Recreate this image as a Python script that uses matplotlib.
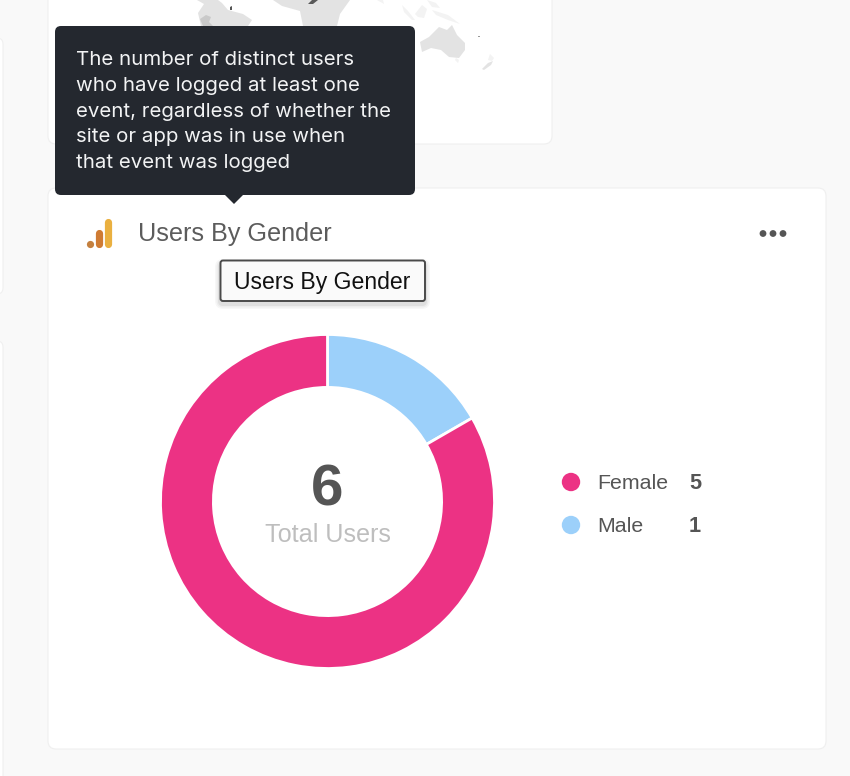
import matplotlib
matplotlib.use("Agg")
import matplotlib.pyplot as plt
from matplotlib.patches import FancyBboxPatch, Polygon, Circle

# Dashboard data
categories = ["Female", "Male"]
values = [5, 1]
colors = ["#EC3284", "#9CD0FA"]
total = sum(values)
card_title = "Users By Gender"
center_caption = "Total Users"
help_lines = [
    "The number of distinct users",
    "who have logged at least one",
    "event, regardless of whether the",
    "site or app was in use when",
    "that event was logged",
]

W, H = 850, 776
BG = "#F9F9F9"
plt.rcParams["font.family"] = ["Liberation Sans", "DejaVu Sans"]

fig = plt.figure(figsize=(W / 100, H / 100), dpi=100, facecolor=BG)

# Page layer in pixel units, origin at the top left
page = fig.add_axes([0, 0, 1, 1])
page.set_xlim(0, W)
page.set_ylim(H, 0)
page.axis("off")


def rounded(x0, y0, x1, y1, r, fc, ec="none", lw=0, z=1, alpha=None):
    patch = FancyBboxPatch((x0 + r, y0 + r), x1 - x0 - 2 * r, y1 - y0 - 2 * r,
                           boxstyle=f"round,pad={r},rounding_size={r}",
                           fc=fc, ec=ec, lw=lw, zorder=z, alpha=alpha)
    page.add_patch(patch)


# Neighbouring dashboard cards
rounded(-30, 38, 3, 294, 6, "#FFFFFF", "#F0F0F0", 0.8)
rounded(-30, 341, 3, 800, 6, "#FFFFFF", "#F0F0F0", 0.8)
rounded(48, -30, 552, 144, 8, "#FFFFFF", "#EFEFEF", 0.8)
rounded(48, 188, 826, 749, 8, "#FFFFFF", "#EFEFEF", 0.8)

# World map fragments in the upper card
LAND = "#E3E3E3"
FAINT = "#F3F3F3"
land_shapes = [
    [(197, 0), (204, 4), (198, 13), (201, 26), (248, 26), (252, 20), (243, 14), (228, 10), (222, 3), (218, 0)],
    [(273, 0), (282, 6), (300, 11), (303, 26), (337, 26), (340, 14), (350, 0)],
    [(420, 42), (429, 37), (439, 27), (447, 30), (452, 25), (457, 35), (465, 43), (465, 50), (459, 58), (449, 57), (441, 50), (431, 48), (422, 52)],
    [(482, 69), (488, 63), (493, 61), (491, 65), (484, 70)],
]
faint_shapes = [
    [(415, 14), (422, 5), (427, 9), (424, 18), (418, 17)],
    [(488, 60), (490, 54), (494, 58), (492, 61)],
    [(402, 5), (408, 11), (415, 20), (412, 20), (404, 12)],
    [(432, 10), (448, 15), (460, 24), (448, 20), (436, 15)],
    [(427, 0), (436, 3), (440, 8), (432, 7)],
    [(377, 0), (383, 0), (384, 4)],
    [(456, 58), (459, 60), (458, 63), (455, 60)],
]
for shape in land_shapes:
    page.add_patch(Polygon(shape, closed=True, fc=LAND, ec="none", zorder=2))
for shape in faint_shapes:
    page.add_patch(Polygon(shape, closed=True, fc=FAINT, ec="none", zorder=2))
page.add_patch(Polygon([(200, 19), (206, 15), (211, 17), (209, 22), (213, 26), (203, 26)],
                       closed=True, fc="#C9C9C9", ec="none", zorder=3))
page.add_patch(Polygon([(308, 4), (312, 0), (318, 0), (313, 4)], closed=True, fc="#5A5A5A", ec="none", zorder=3))
page.add_patch(Polygon([(230, 7), (232, 6), (232, 10), (230, 10)], closed=True, fc="#555555", ec="none", zorder=3))
page.add_patch(Polygon([(478, 36), (480, 36), (480, 37), (478, 37)], closed=True, fc="#999999", ec="none", zorder=3))

# Dark help tooltip with its pointer
rounded(55, 26, 415, 195, 6, "#24282F", z=5)
page.add_patch(Polygon([(224, 194), (244, 194), (234, 204)], closed=True, fc="#24282F", ec="none", zorder=5))
for i, line in enumerate(help_lines):
    page.text(76, 60 + i * 25.8, line, color="#F2F3F4", fontsize=14.7, family=["Inter", "Liberation Sans"],
              va="center", ha="left", zorder=6)

# Card header: analytics icon, title, overflow dots
page.plot([90], [244], lw=0, marker="o", ms=5.2, mew=0, color="#C4803F", zorder=3)
page.plot([99, 99], [233.4, 243.6], color="#CF7B33", lw=5.2, solid_capstyle="round", zorder=3)
page.plot([108.5, 108.5], [222.4, 243.6], color="#EAB040", lw=5.2, solid_capstyle="round", zorder=3)
page.text(138.5, 234.5, card_title, color="#5C5C5C", fontsize=18.2, va="center", ha="left", zorder=3)
for x in (763, 773, 783):
    page.add_patch(Circle((x, 233.5), 3.4, fc="#555555", ec="none", zorder=3))

# Browser tooltip on the title
for grow, alpha in ((5, 0.03), (3.5, 0.04), (2, 0.06)):
    rounded(220 - grow, 261 - grow + 3, 425 + grow, 301 + grow + 3, 3 + grow, "#000000", z=3, alpha=alpha)
rounded(220.5, 260.5, 425, 301, 2.5, "#FAFAFA", "#4A4A4A", 1.4, z=4)
page.text(234, 282, card_title, color="#111111", fontsize=16.6, va="center", ha="left", zorder=5)

# Donut chart
cx, cy, radius = 327.5, 501.5, 167.0
donut = fig.add_axes([(cx - radius) / W, 1 - (cy + radius) / H, 2 * radius / W, 2 * radius / H])
donut.pie(values[::-1], colors=colors[::-1], startangle=90, counterclock=False, radius=1.0,
          wedgeprops=dict(width=52.9 / radius, edgecolor="white", linewidth=2.0))
donut.set_xlim(-1, 1)
donut.set_ylim(-1, 1)
donut.set_aspect("equal")
donut.patch.set_alpha(0)

# Centre total, placed in the donut's unit coordinates
donut.text(0, (cy - 491) / radius, str(total), color="#555555", fontsize=42, fontweight="bold", va="center", ha="center")
donut.text(0, (cy - 535.5) / radius, center_caption, color="#BEBEBE", fontsize=18.1, va="center", ha="center")

# Legend rows
for i, (name, value, color) in enumerate(zip(categories, values, colors)):
    y = 482 + i * 43
    page.add_patch(Circle((571, y), 9.2, fc=color, ec="none", zorder=3))
    page.text(597, y + 1.5, name, color="#555555", fontsize=15.4, va="center", ha="left", zorder=3)
    page.text(695, y + 1.5, str(value), color="#555555", fontsize=15.6, fontweight="bold", va="center", ha="center", zorder=3)

fig.savefig("out.png", dpi=100, facecolor=BG)
